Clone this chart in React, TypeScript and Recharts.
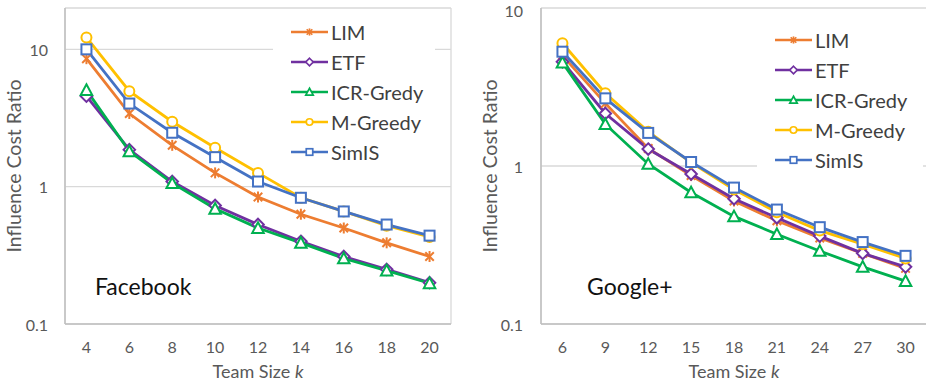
import React from 'react';
import { LineChart, Line, XAxis, YAxis, CartesianGrid, Legend } from 'recharts';

const SERIES_NAMES = ['LIM', 'ETF', 'ICR-Gredy', 'M-Greedy', 'SimIS'];
const SERIES_KEYS = ['lim', 'etf', 'icr', 'mg', 'simis'];
const SERIES_COLORS = ['#ED7D31', '#7030A0', '#00B050', '#FFC000', '#4472C4'];
const SERIES_MARKERS = ['star', 'diamond', 'triangle', 'circle', 'square'];

// Facebook
const fbK = [4, 6, 8, 10, 12, 14, 16, 18, 20];
const fbLIM = [8.55, 3.41, 2.0, 1.26, 0.84, 0.63, 0.5, 0.39, 0.31];
const fbETF = [4.56, 1.86, 1.09, 0.73, 0.53, 0.4, 0.31, 0.25, 0.2];
const fbICR = [5.05, 1.81, 1.06, 0.69, 0.5, 0.39, 0.3, 0.245, 0.198];
const fbMG = [12.2, 4.96, 2.97, 1.92, 1.26, 0.83, 0.66, 0.52, 0.43];
const fbSimIS = [10.0, 4.03, 2.47, 1.64, 1.09, 0.83, 0.66, 0.53, 0.44];

// Google+
const gpK = [6, 9, 12, 15, 18, 21, 24, 27, 30];
const gpLIM = [5.0, 2.49, 1.29, 0.87, 0.6, 0.45, 0.35, 0.28, 0.225];
const gpETF = [4.57, 2.15, 1.28, 0.89, 0.62, 0.47, 0.36, 0.28, 0.23];
const gpICR = [4.51, 1.84, 1.03, 0.68, 0.48, 0.37, 0.29, 0.23, 0.187];
const gpMG = [5.98, 2.89, 1.65, 1.05, 0.71, 0.51, 0.39, 0.32, 0.26];
const gpSimIS = [5.29, 2.68, 1.62, 1.06, 0.73, 0.53, 0.41, 0.33, 0.27];

const yTicks = [0.1, 1, 10];

const FONT = 'Lato, "Open Sans", sans-serif';
const GRID = '#D9D9D9';
const BORDER = '#BFBFBF';
const TICK_COLOR = '#595959';

function buildData(ks: number[], arrs: number[][]) {
  return ks.map((k, i) => {
    const row: any = { k };
    SERIES_KEYS.forEach((key, j) => {
      row[key] = arrs[j][i];
    });
    return row;
  });
}

function Marker({ type, cx, cy, color, size, sw }: any) {
  const r = size / 2;
  if (type === 'circle') {
    return <circle cx={cx} cy={cy} r={r} fill="#fff" stroke={color} strokeWidth={sw} />;
  }
  if (type === 'square') {
    return <rect x={cx - r} y={cy - r} width={size} height={size} fill="#fff" stroke={color} strokeWidth={sw} />;
  }
  if (type === 'diamond') {
    const d = r * 1.15;
    return (
      <path
        d={`M${cx},${cy - d}L${cx + d},${cy}L${cx},${cy + d}L${cx - d},${cy}Z`}
        fill="#fff"
        stroke={color}
        strokeWidth={sw}
      />
    );
  }
  if (type === 'triangle') {
    const h = r * 1.15;
    return (
      <path
        d={`M${cx},${cy - h}L${cx + h},${cy + h * 0.85}L${cx - h},${cy + h * 0.85}Z`}
        fill="#fff"
        stroke={color}
        strokeWidth={sw}
        strokeLinejoin="miter"
      />
    );
  }
  // star (asterisk)
  const a = r * 0.85;
  return (
    <g stroke={color} strokeWidth={sw}>
      <line x1={cx} y1={cy - r * 1.1} x2={cx} y2={cy + r * 1.1} />
      <line x1={cx - a} y1={cy - a} x2={cx + a} y2={cy + a} />
      <line x1={cx - a} y1={cy + a} x2={cx + a} y2={cy - a} />
    </g>
  );
}

function LegendBox() {
  return (
    <div style={{ background: '#fff', padding: '0 8px 0 18px' }}>
      {SERIES_NAMES.map((name, i) => (
        <div key={name} style={{ display: 'flex', alignItems: 'center', height: 30 }}>
          <svg width={38} height={14} style={{ display: 'block' }}>
            <line x1={0} y1={7} x2={37} y2={7} stroke={SERIES_COLORS[i]} strokeWidth={2.6} />
            <Marker type={SERIES_MARKERS[i]} cx={18.5} cy={7} color={SERIES_COLORS[i]} size={6.5} sw={1.7} />
          </svg>
          <span
            style={{
              fontFamily: FONT,
              fontSize: 20,
              color: '#404040',
              marginLeft: 2,
              lineHeight: '30px',
              whiteSpace: 'nowrap',
            }}
          >
            {name}
          </span>
        </div>
      ))}
    </div>
  );
}

function YTick(props: any) {
  const { x, y, payload } = props;
  const yy = Math.max(y, 10);
  return (
    <text
      x={x}
      y={yy}
      textAnchor="end"
      dominantBaseline="central"
      fill={TICK_COLOR}
      fontSize={16}
      fontFamily={FONT}
    >
      {String(payload.value)}
    </text>
  );
}

function Panel(props: any) {
  const {
    ks, arrs, yMax, width, yAxisWidth, marginRight, titleX, legendLeft, legendTop, legendWidth,
    name, nameLeft, nameWidth, chartLeft, yTickMargin,
  } = props;
  const data = buildData(ks, arrs);
  const step = ks[1] - ks[0];
  const xDomain = [ks[0] - step / 2, ks[ks.length - 1] + step / 2];
  const gridTicks = ks.slice(1).map((k: number) => k - step / 2);
  const height = 383;
  const plotTop = 8;
  const xAxisHeight = 59;

  return (
    <div style={{ position: 'absolute', left: chartLeft, top: 0, width, height }}>
      <LineChart
        width={width}
        height={height}
        data={data}
        margin={{ top: plotTop, right: marginRight, bottom: 0, left: 0 }}
      >
        <CartesianGrid xAxisId="grid" yAxisId="main" stroke={GRID} strokeWidth={1.3} />
        <XAxis
          xAxisId="main"
          dataKey="k"
          type="number"
          domain={xDomain}
          ticks={ks}
          allowDataOverflow
          height={xAxisHeight}
          tickLine={false}
          tickMargin={12}
          axisLine={{ stroke: BORDER, strokeWidth: 1.5 }}
          tick={{ fill: TICK_COLOR, fontSize: 16, fontFamily: FONT }}
          interval={0}
          label={(lp: any) => {
            const vb = lp.viewBox;
            return (
              <text
                x={vb.x + vb.width / 2}
                y={vb.y + 47}
                textAnchor="middle"
                dominantBaseline="central"
                fill={TICK_COLOR}
                fontSize={18}
                fontFamily={FONT}
              >
                Team Size <tspan fontStyle="italic">k</tspan>
              </text>
            );
          }}
        />
        <XAxis
          xAxisId="grid"
          orientation="top"
          type="number"
          domain={xDomain}
          ticks={gridTicks}
          allowDataOverflow
          height={0}
          tick={false}
          tickLine={false}
          axisLine={{ stroke: BORDER, strokeWidth: 1.5 }}
        />
        <YAxis
          yAxisId="main"
          scale="log"
          domain={[0.1, yMax]}
          ticks={yTicks}
          allowDataOverflow
          width={yAxisWidth}
          tickLine={false}
          tickMargin={yTickMargin}
          axisLine={{ stroke: BORDER, strokeWidth: 1.5 }}
          tick={<YTick />}
          interval={0}
          label={(lp: any) => {
            const vb = lp.viewBox;
            const cy = vb.y + vb.height / 2;
            return (
              <text
                x={titleX}
                y={cy}
                textAnchor="middle"
                dominantBaseline="central"
                transform={`rotate(-90 ${titleX} ${cy})`}
                fill={TICK_COLOR}
                fontSize={19.5}
                fontFamily={FONT}
              >
                Influence Cost Ratio
              </text>
            );
          }}
        />
        <YAxis
          yAxisId="right"
          orientation="right"
          width={0}
          tick={false}
          tickLine={false}
          axisLine={{ stroke: BORDER, strokeWidth: 1.5 }}
        />
        <Legend
          layout="vertical"
          align="center"
          verticalAlign="middle"
          wrapperStyle={{ left: legendLeft, top: legendTop, width: legendWidth, height: 'auto' }}
          content={() => <LegendBox />}
        />
        {SERIES_KEYS.map((key, i) => (
          <Line
            key={key}
            xAxisId="main"
            yAxisId="main"
            dataKey={key}
            name={SERIES_NAMES[i]}
            stroke={SERIES_COLORS[i]}
            strokeWidth={2.8}
            isAnimationActive={false}
            activeDot={false}
            dot={(p: any) => (
              <Marker
                key={`${key}-${p.index}`}
                type={SERIES_MARKERS[i]}
                cx={p.cx}
                cy={p.cy}
                color={SERIES_COLORS[i]}
                size={10}
                sw={2}
              />
            )}
          />
        ))}
      </LineChart>
      <div
        style={{
          position: 'absolute',
          left: nameLeft,
          top: 264,
          width: nameWidth,
          height: 44,
          background: '#fff',
          fontFamily: FONT,
          fontSize: 23,
          color: '#111',
          lineHeight: '44px',
          whiteSpace: 'nowrap',
        }}
      >
        {name}
      </div>
    </div>
  );
}

export default function App() {
  return (
    <div
      style={{
        position: 'absolute',
        left: 0,
        top: 0,
        width: 926,
        height: 383,
        overflow: 'hidden',
        background: '#fff',
      }}
    >
      <Panel
        chartLeft={0}
        ks={fbK}
        arrs={[fbLIM, fbETF, fbICR, fbMG, fbSimIS]}
        yMax={20}
        width={470}
        yAxisWidth={65}
        marginRight={19}
        titleX={13.5}
        yTickMargin={11}
        legendLeft={273}
        legendTop={17}
        legendWidth={162}
        name="Facebook"
        nameLeft={95}
        nameWidth={105}
      />
      <Panel
        chartLeft={470}
        ks={gpK}
        arrs={[gpLIM, gpETF, gpICR, gpMG, gpSimIS]}
        yMax={10}
        width={458}
        yAxisWidth={71}
        marginRight={1}
        titleX={19.5}
        yTickMargin={12}
        legendLeft={287}
        legendTop={25}
        legendWidth={166}
        name="Google+"
        nameLeft={117}
        nameWidth={100}
      />
    </div>
  );
}
